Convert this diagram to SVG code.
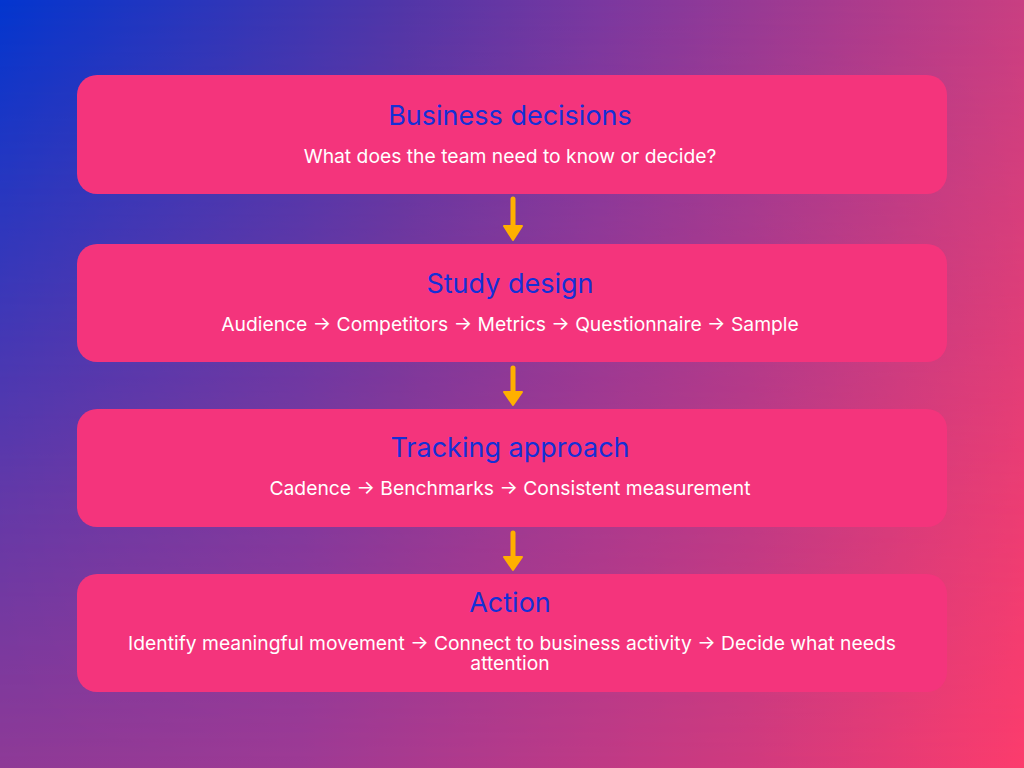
<svg xmlns="http://www.w3.org/2000/svg" width="1024" height="768" viewBox="0 0 1024 768">
  <defs>
    <linearGradient id="bgTop" gradientUnits="userSpaceOnUse" x1="0" y1="0" x2="1024" y2="0">
      <stop offset="0" stop-color="#0336CF"/>
      <stop offset="0.39" stop-color="#5036A8"/>
      <stop offset="0.586" stop-color="#7A38A0"/>
      <stop offset="0.88" stop-color="#B43C8A"/>
      <stop offset="1" stop-color="#C93F82"/>
    </linearGradient>
    <linearGradient id="bgBottom" gradientUnits="userSpaceOnUse" x1="0" y1="0" x2="1024" y2="0">
      <stop offset="0" stop-color="#8E3A96"/>
      <stop offset="0.293" stop-color="#9E3A94"/>
      <stop offset="0.73" stop-color="#D03A7E"/>
      <stop offset="1" stop-color="#FC3C6C"/>
    </linearGradient>
    <linearGradient id="fade" gradientUnits="userSpaceOnUse" x1="0" y1="0" x2="0" y2="768">
      <stop offset="0" stop-color="#000000"/>
      <stop offset="0.65" stop-color="#B0B0B0"/>
      <stop offset="1" stop-color="#FFFFFF"/>
    </linearGradient>
    <mask id="fadeMask" maskUnits="userSpaceOnUse" x="0" y="0" width="1024" height="768">
      <rect width="1024" height="768" fill="url(#fade)"/>
    </mask>
    <style>
      .box { fill: #F4347C; }
      .title { font-family: Inter, "Liberation Sans", sans-serif; font-size: 27px; fill: #1530D6; text-anchor: middle; }
      .sub { font-family: Inter, "Liberation Sans", sans-serif; font-size: 19.3px; fill: #FFFFFF; text-anchor: middle; }
      .shaft { stroke: #FFB000; stroke-width: 5; stroke-linecap: round; fill: none; }
      .head { fill: #FFB000; stroke: #FFB000; stroke-width: 2; stroke-linejoin: round; }
    </style>
  </defs>
  <rect width="1024" height="768" fill="url(#bgTop)"/>
  <rect width="1024" height="768" fill="url(#bgBottom)" mask="url(#fadeMask)"/>

  <g id="node-business-decisions">
    <rect class="box" x="77" y="75" width="870" height="119" rx="20"/>
    <text class="title" x="510" y="125">Business decisions</text>
    <text class="sub" x="510" y="163">What does the team need to know or decide?</text>
  </g>

  <g id="node-study-design">
    <rect class="box" x="77" y="244" width="870" height="118" rx="20"/>
    <text class="title" x="510" y="293">Study design</text>
    <text class="sub" x="510" y="331">Audience → Competitors → Metrics → Questionnaire → Sample</text>
  </g>

  <g id="node-tracking-approach">
    <rect class="box" x="77" y="409" width="870" height="118" rx="20"/>
    <text class="title" x="510" y="457">Tracking approach</text>
    <text class="sub" x="510" y="495">Cadence → Benchmarks → Consistent measurement</text>
  </g>

  <g id="node-action">
    <rect class="box" x="77" y="574" width="870" height="118" rx="20"/>
    <text class="title" x="510" y="612">Action</text>
    <text class="sub" x="512" y="650">Identify meaningful movement → Connect to business activity → Decide what needs</text>
    <text class="sub" x="510" y="670">attention</text>
  </g>

  <g id="connectors">
    <line class="shaft" x1="513" y1="199" x2="513" y2="228"/>
    <polygon class="head" points="504,226 522,226 513,240"/>
    <line class="shaft" x1="513" y1="368" x2="513" y2="394"/>
    <polygon class="head" points="504,392 522,392 513,405"/>
    <line class="shaft" x1="513" y1="533" x2="513" y2="559"/>
    <polygon class="head" points="504,557 522,557 513,570"/>
  </g>
</svg>
